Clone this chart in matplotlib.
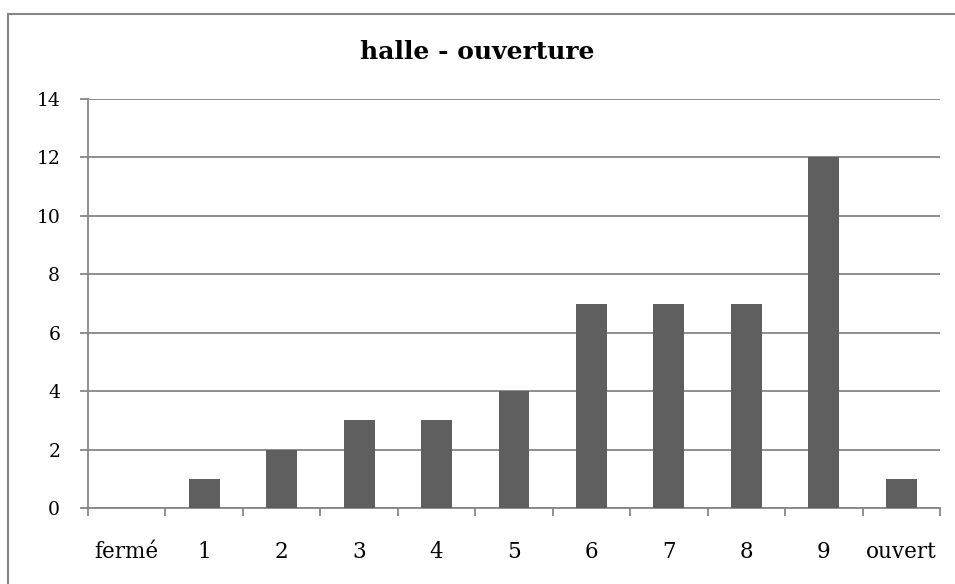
import matplotlib
matplotlib.use("Agg")
import matplotlib.pyplot as plt
from matplotlib.patches import Rectangle

categories = ["fermé", "1", "2", "3", "4", "5", "6", "7", "8", "9", "ouvert"]
counts = [0, 1, 2, 3, 3, 4, 7, 7, 7, 12, 1]
y_ticks = [0, 2, 4, 6, 8, 10, 12, 14]
title = "halle - ouverture"

plt.rcParams["font.family"] = ["DejaVu Serif"]
grid_col = "#868686"
bar_col = "#5f5f5f"

fig = plt.figure(figsize=(9.55, 5.84), dpi=100)
ax = fig.add_axes([88 / 955, 1 - 508 / 584, (940 - 88) / 955, (508 - 99) / 584])

x = list(range(len(categories)))
ax.bar(x, counts, width=0.4, color=bar_col, zorder=3)

ax.set_xlim(-0.5, len(categories) - 0.5)
ax.set_ylim(0, 14)
ax.set_yticks(y_ticks)
ax.set_yticklabels([str(v) for v in y_ticks], fontsize=13.5)
ax.yaxis.grid(True, color=grid_col, linewidth=1.3, zorder=0)

ax.set_xticks([i - 0.5 for i in range(len(categories) + 1)])
ax.set_xticklabels([])
ax.set_xticks(x, minor=True)
ax.set_xticklabels(categories, minor=True, fontsize=15.5)
ax.tick_params(axis="x", which="minor", length=0, pad=24)
ax.tick_params(axis="x", which="major", length=6, color=grid_col, width=1.3)
ax.tick_params(axis="y", length=6, color=grid_col, width=1.3, pad=14)

for side in ["top", "right"]:
    ax.spines[side].set_visible(False)
for side in ["left", "bottom"]:
    ax.spines[side].set_color(grid_col)
    ax.spines[side].set_linewidth(1.3)

fig.text(0.5, 1 - 52 / 584, title, ha="center", va="center",
         fontsize=18, fontweight="bold")

# outer chart frame (runs past the right and bottom edges)
fig.patches.append(Rectangle((8 / 955, -0.05), 1.0, 1 - 14 / 584 + 0.05,
                             transform=fig.transFigure, fill=False,
                             edgecolor=grid_col, linewidth=1.5))

fig.savefig("out.png", dpi=100)
